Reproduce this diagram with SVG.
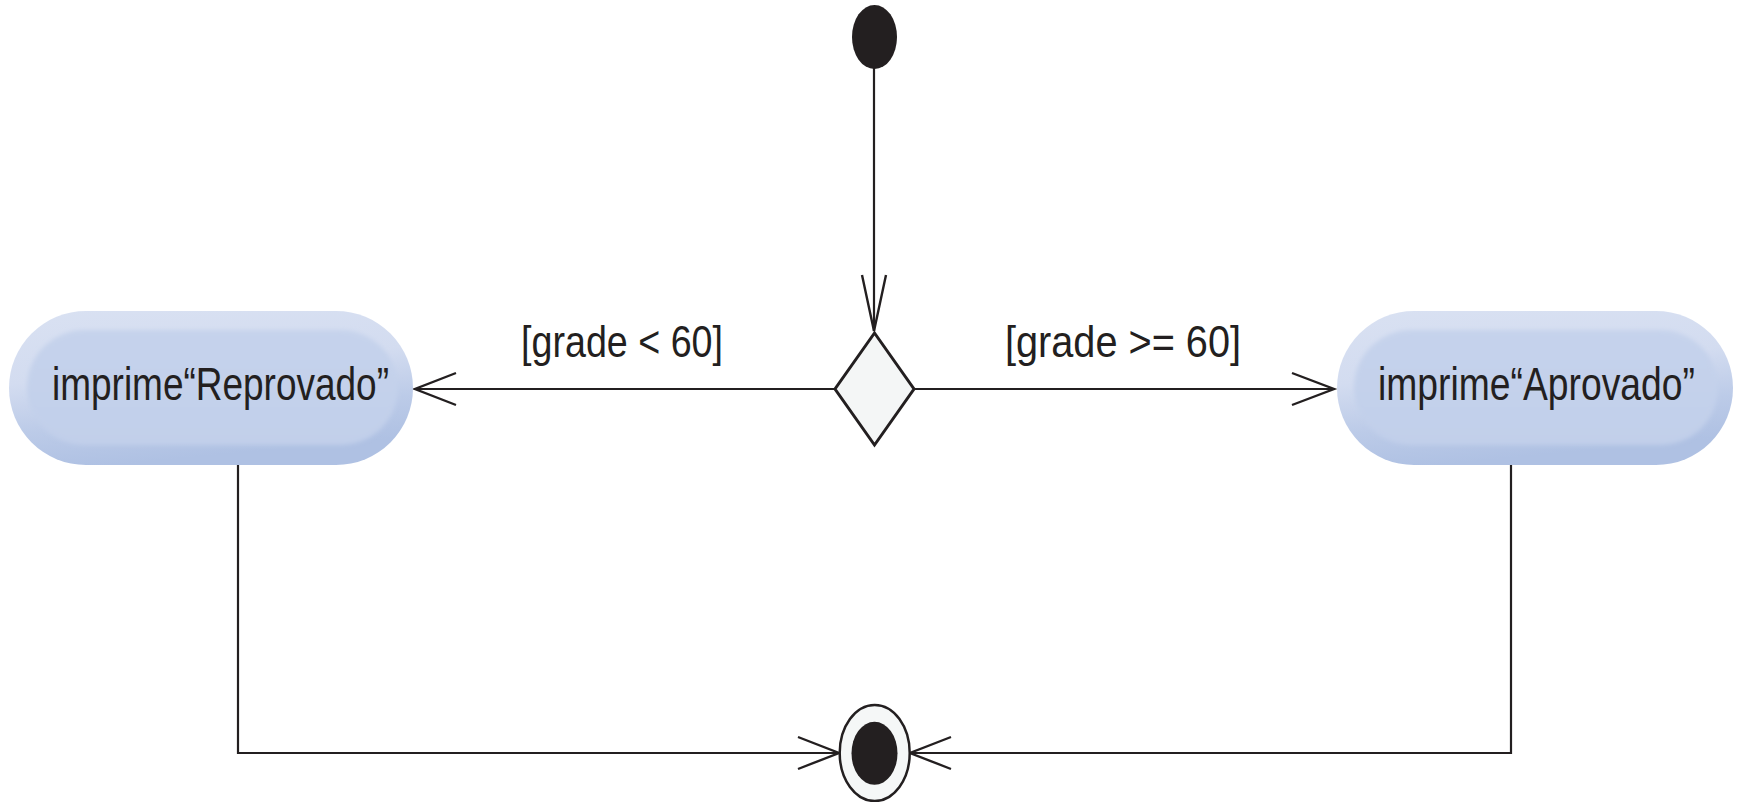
<svg xmlns="http://www.w3.org/2000/svg" width="1738" height="802" viewBox="0 0 1738 802">
<defs>
<linearGradient id="bevel" x1="0" y1="0" x2="0.25" y2="1">
<stop offset="0" stop-color="#d9e1f2"/>
<stop offset="0.45" stop-color="#d3dcf0"/>
<stop offset="0.75" stop-color="#bccbe8"/>
<stop offset="1" stop-color="#afc1e3"/>
</linearGradient>
<linearGradient id="inner" x1="0" y1="0" x2="0" y2="1">
<stop offset="0" stop-color="#c6d3ec"/>
<stop offset="1" stop-color="#c1cfea"/>
</linearGradient>
<filter id="soft" x="-5%" y="-10%" width="110%" height="120%"><feGaussianBlur stdDeviation="2"/></filter>
</defs>
<style>
.line{fill:none;stroke:#231f20;stroke-width:2.2;stroke-linejoin:miter}
.head{fill:none;stroke:#231f20;stroke-width:2.4;stroke-linejoin:miter}
.txt{font-family:"Liberation Sans",Arial,sans-serif;fill:#231f20;font-weight:normal}
.outer{fill:url(#bevel)}
.innerR{fill:url(#inner);filter:url(#soft)}
</style>
<rect width="1738" height="802" fill="#ffffff"/>

<g id="connectors">
<line class="line" x1="874" y1="66" x2="874" y2="331"/>
<path class="head" d="M862,275 L874,331 L886,275"/>
<line class="line" x1="835" y1="389" x2="416" y2="389"/>
<path class="head" d="M456,373 L415,389 L456,405"/>
<line class="line" x1="914" y1="389" x2="1333" y2="389"/>
<path class="head" d="M1292,373 L1334,389 L1292,405"/>
<polyline class="line" points="238,465 238,753 838,753"/>
<path class="head" d="M798,737 L839,753 L798,769"/>
<polyline class="line" points="1511,465 1511,753 911,753"/>
<path class="head" d="M951,737 L910,753 L951,769"/>
<text class="txt" x="521" y="357" font-size="45" textLength="202" lengthAdjust="spacingAndGlyphs">[grade &lt; 60]</text>
<text class="txt" x="1005" y="357" font-size="45" textLength="236" lengthAdjust="spacingAndGlyphs">[grade &gt;= 60]</text>
</g>

<g id="initial">
<ellipse cx="874.5" cy="37" rx="22.5" ry="32" fill="#231f20"/>
</g>

<g id="decision">
<polygon points="874.5,333 914,389 874.5,445 835,389" fill="#f4f6f6" stroke="#231f20" stroke-width="3"/>
</g>

<g id="reprovado">
<rect class="outer" x="9" y="311" width="404" height="154" rx="77" ry="77"/>
<rect class="innerR" x="27" y="330" width="371" height="115" rx="57.5" ry="57.5"/>
<text class="txt" x="52" y="400" font-size="47" textLength="337" lengthAdjust="spacingAndGlyphs">imprime“Reprovado”</text>
</g>

<g id="aprovado">
<rect class="outer" x="1337" y="311" width="396" height="154" rx="77" ry="77"/>
<rect class="innerR" x="1354" y="330" width="364" height="115" rx="57.5" ry="57.5"/>
<text class="txt" x="1378" y="400" font-size="47" textLength="317" lengthAdjust="spacingAndGlyphs">imprime“Aprovado”</text>
</g>

<g id="final">
<ellipse cx="874.7" cy="753" rx="35" ry="48" fill="#f5f7f7" stroke="#231f20" stroke-width="2.5"/>
<ellipse cx="874.5" cy="753.3" rx="23" ry="31.5" fill="#231f20"/>
</g>
</svg>
